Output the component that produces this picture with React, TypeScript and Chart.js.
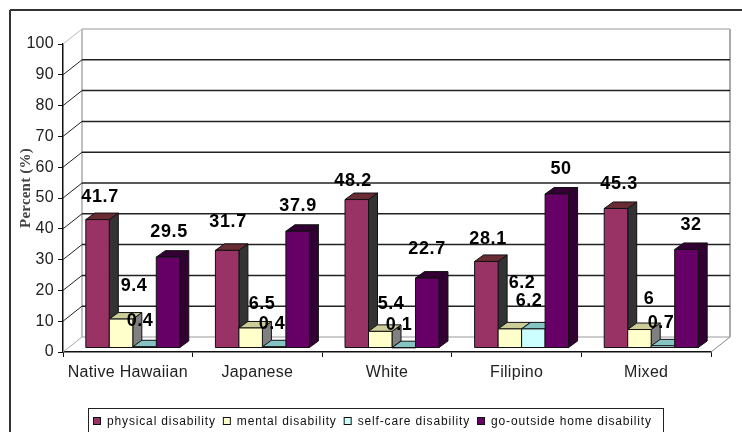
import React, { useEffect, useRef } from "react";
import { Chart, registerables } from "chart.js";

Chart.register(...registerables);

const categories = ["Native Hawaiian", "Japanese", "White", "Filipino", "Mixed"];
const physical = [41.7, 31.7, 48.2, 28.1, 45.3];
const mental = [9.4, 6.5, 5.4, 6.2, 6];
const selfCare = [0.4, 0.4, 0.1, 6.2, 0.7];
const goOutside = [29.5, 37.9, 22.7, 50, 32];
const seriesNames = [
  "physical disability",
  "mental disability",
  "self-care disability",
  "go-outside home disability",
];

// Face shading of each series: front, top, side.
const faces = [
  ["#993366", "#6A2C34", "#333333"],
  ["#FFFFCC", "#CCCC99", "#808080"],
  ["#CCFFFF", "#86C4C4", "#66A0A0"],
  ["#660066", "#330033", "#330033"],
];

// Hand placement of each value label, relative to the top centre of its bar.
const labelNudge: number[][][] = [
  [[2.5, -22.6], [0.9, -28.4], [-3.7, -18.5], [1.7, -22.5], [3.1, -24.5]],
  [[13, -33], [11.4, -24], [10.8, -27.4], [12.2, -45.9], [9.6, -30.5]],
  [[-4.5, -25.8], [-2.1, -22.8], [-4.7, -22.7], [-4.3, -27.9], [-1.9, -22.8]],
  [[1, -25.1], [0.4, -25.3], [-0.2, -29.1], [4.2, -25], [4.6, -24.4]],
];

const WALL = { dx: 19, dy: -15 };
const BAR_SHIFT = { dx: 5, dy: -4 };
const BAR_DEPTH = { dx: 9, dy: -6.5 };

function poly(ctx: CanvasRenderingContext2D, pts: number[][], fill: string, stroke: string) {
  ctx.beginPath();
  pts.forEach(([x, y], i) => (i ? ctx.lineTo(x, y) : ctx.moveTo(x, y)));
  ctx.closePath();
  ctx.fillStyle = fill;
  ctx.fill();
  ctx.strokeStyle = stroke;
  ctx.lineWidth = 1;
  ctx.stroke();
}

function line(ctx: CanvasRenderingContext2D, x0: number, y0: number, x1: number, y1: number, color: string, width: number) {
  ctx.beginPath();
  ctx.moveTo(x0, y0);
  ctx.lineTo(x1, y1);
  ctx.strokeStyle = color;
  ctx.lineWidth = width;
  ctx.stroke();
}

const pseudo3d = {
  id: "pseudo3d",
  beforeDraw(chart: any) {
    const { ctx, width, height } = chart;
    ctx.save();
    ctx.fillStyle = "#fff";
    ctx.fillRect(0, 0, width, height);
    line(ctx, 10, 10, width, 10, "#333", 2);
    line(ctx, 10, 10, 10, height, "#333", 2);
    ctx.restore();
    ctx.letterSpacing = "0.3px";
  },
  beforeDatasetsDraw(chart: any) {
    const { ctx, chartArea, scales } = chart;
    const { left, right, bottom } = chartArea;
    const y = scales.y;
    ctx.save();
    // Floor and walls
    const base = y.getPixelForValue(0);
    const topY = y.getPixelForValue(100);
    line(ctx, left, base, left + WALL.dx, base + WALL.dy, "#aaa", 1);
    line(ctx, left + WALL.dx, base + WALL.dy, right + WALL.dx, base + WALL.dy, "#bbb", 1.5);
    line(ctx, right, bottom, right + WALL.dx, base + WALL.dy, "#888", 1);
    line(ctx, left + WALL.dx, topY + WALL.dy, left + WALL.dx, base + WALL.dy, "#aaa", 1.5);
    line(ctx, right + WALL.dx, topY + WALL.dy, right + WALL.dx, base + WALL.dy, "#aaa", 2);
    // Gridlines run up the side wall and along the back wall
    y.ticks.forEach((t: any) => {
      if (t.value === 0) return;
      const p = y.getPixelForValue(t.value);
      const top = t.value === 100;
      line(ctx, left, p, left + WALL.dx, p + WALL.dy, top ? "#bbb" : "#222", 1);
      line(ctx, left + WALL.dx, p + WALL.dy, right + WALL.dx, p + WALL.dy, top ? "#bbb" : "#222", 1.5);
    });
    ctx.restore();
  },
  beforeDatasetDraw() {
    return false;
  },
  afterDatasetsDraw(chart: any) {
    const { ctx, data } = chart;
    ctx.save();
    const metas = data.datasets.map((_: any, i: number) => chart.getDatasetMeta(i));
    data.labels.forEach((_: any, c: number) => {
      metas.forEach((meta: any, s: number) => {
        const el = meta.data[c];
        const l = el.x - el.width / 2 + BAR_SHIFT.dx;
        const r = el.x + el.width / 2 + BAR_SHIFT.dx;
        const t = el.y + BAR_SHIFT.dy;
        const b = el.base + BAR_SHIFT.dy;
        const [front, top, side] = faces[s];
        const dx = BAR_DEPTH.dx;
        const dy = BAR_DEPTH.dy;
        poly(ctx, [[r, t], [r + dx, t + dy], [r + dx, b + dy], [r, b]], side, "#111");
        poly(ctx, [[l, t], [l + dx, t + dy], [r + dx, t + dy], [r, t]], top, "#111");
        poly(ctx, [[l, t], [r, t], [r, b], [l, b]], front, "#111");
      });
    });
    // Value labels sit above every bar
    ctx.fillStyle = "#000";
    ctx.font = 'bold 18px "Liberation Sans"';
    ctx.letterSpacing = "0.6px";
    ctx.textAlign = "center";
    ctx.textBaseline = "middle";
    metas.forEach((meta: any, s: number) => {
      meta.data.forEach((el: any, c: number) => {
        const [nx, ny] = labelNudge[s][c];
        const v = data.datasets[s].data[c];
        ctx.fillText(String(v), el.x + BAR_SHIFT.dx + nx, el.y + BAR_SHIFT.dy + ny);
      });
    });
    ctx.restore();
  },
  afterDraw(chart: any) {
    const { ctx } = chart;
    ctx.save();
    // Axis title
    ctx.save();
    ctx.translate(26, 188);
    ctx.rotate(-Math.PI / 2);
    ctx.letterSpacing = "0.2px";
    ctx.fillStyle = "#444";
    ctx.font = 'bold 15px "Liberation Serif"';
    ctx.textAlign = "center";
    ctx.textBaseline = "middle";
    ctx.fillText("Percent (%)", 0, 0);
    ctx.restore();
    // Legend: its lower edge falls past the bottom of the canvas
    ctx.strokeStyle = "#222";
    ctx.lineWidth = 1;
    ctx.strokeRect(88.5, 408.5, 575, 30);
    ctx.font = '12px "Liberation Sans"';
    ctx.letterSpacing = "0.85px";
    ctx.textBaseline = "middle";
    ctx.textAlign = "left";
    let x = 93;
    seriesNames.forEach((name, i) => {
      ctx.fillStyle = faces[i][0];
      ctx.fillRect(x + 0.5, 417.5, 7, 7);
      ctx.strokeStyle = "#111";
      ctx.strokeRect(x + 0.5, 417.5, 7, 7);
      ctx.fillStyle = "#111";
      ctx.fillText(name, x + 14, 421.5);
      x += 14 + ctx.measureText(name).width + 7;
    });
    ctx.restore();
    ctx.letterSpacing = "0px";
  },
};

export default function App() {
  const ref = useRef<HTMLCanvasElement>(null);
  useEffect(() => {
    const chart = new Chart(ref.current!, {
      type: "bar",
      data: {
        labels: categories,
        datasets: [physical, mental, selfCare, goOutside].map((values, i) => ({
          label: seriesNames[i],
          data: values,
          backgroundColor: faces[i][0],
          barPercentage: 1,
          categoryPercentage: 0.725,
        })),
      },
      options: {
        animation: false,
        responsive: false,
        events: [],
        layout: { padding: { left: 0, right: 31, top: 44, bottom: 0 } },
        plugins: { legend: { display: false }, title: { display: false }, tooltip: { enabled: false } },
        scales: {
          x: {
            afterFit: (s: any) => { s.height = 80; },
            border: { display: true, color: "#111", width: 1.5 },
            grid: { drawOnChartArea: false, drawTicks: true, tickLength: 5, color: "#111" },
            ticks: {
              autoSkip: false,
              maxRotation: 0,
              padding: 6,
              color: "#222",
              font: { family: "Liberation Sans", size: 16 },
            },
          },
          y: {
            min: 0,
            max: 100,
            afterFit: (s: any) => { s.width = 63; },
            border: { display: true, color: "#111", width: 1.5 },
            grid: { drawOnChartArea: false, drawTicks: true, tickLength: 5, color: "#111" },
            ticks: {
              stepSize: 10,
              padding: 4,
              color: "#222",
              font: { family: "Liberation Sans", size: 16 },
            },
          },
        },
      },
      plugins: [pseudo3d],
    } as any);
    return () => chart.destroy();
  }, []);
  return (
    <div style={{ position: "absolute", left: 0, top: 0, width: 742, height: 432 }}>
      <canvas ref={ref} width={742} height={432} style={{ display: "block" }} />
    </div>
  );
}
